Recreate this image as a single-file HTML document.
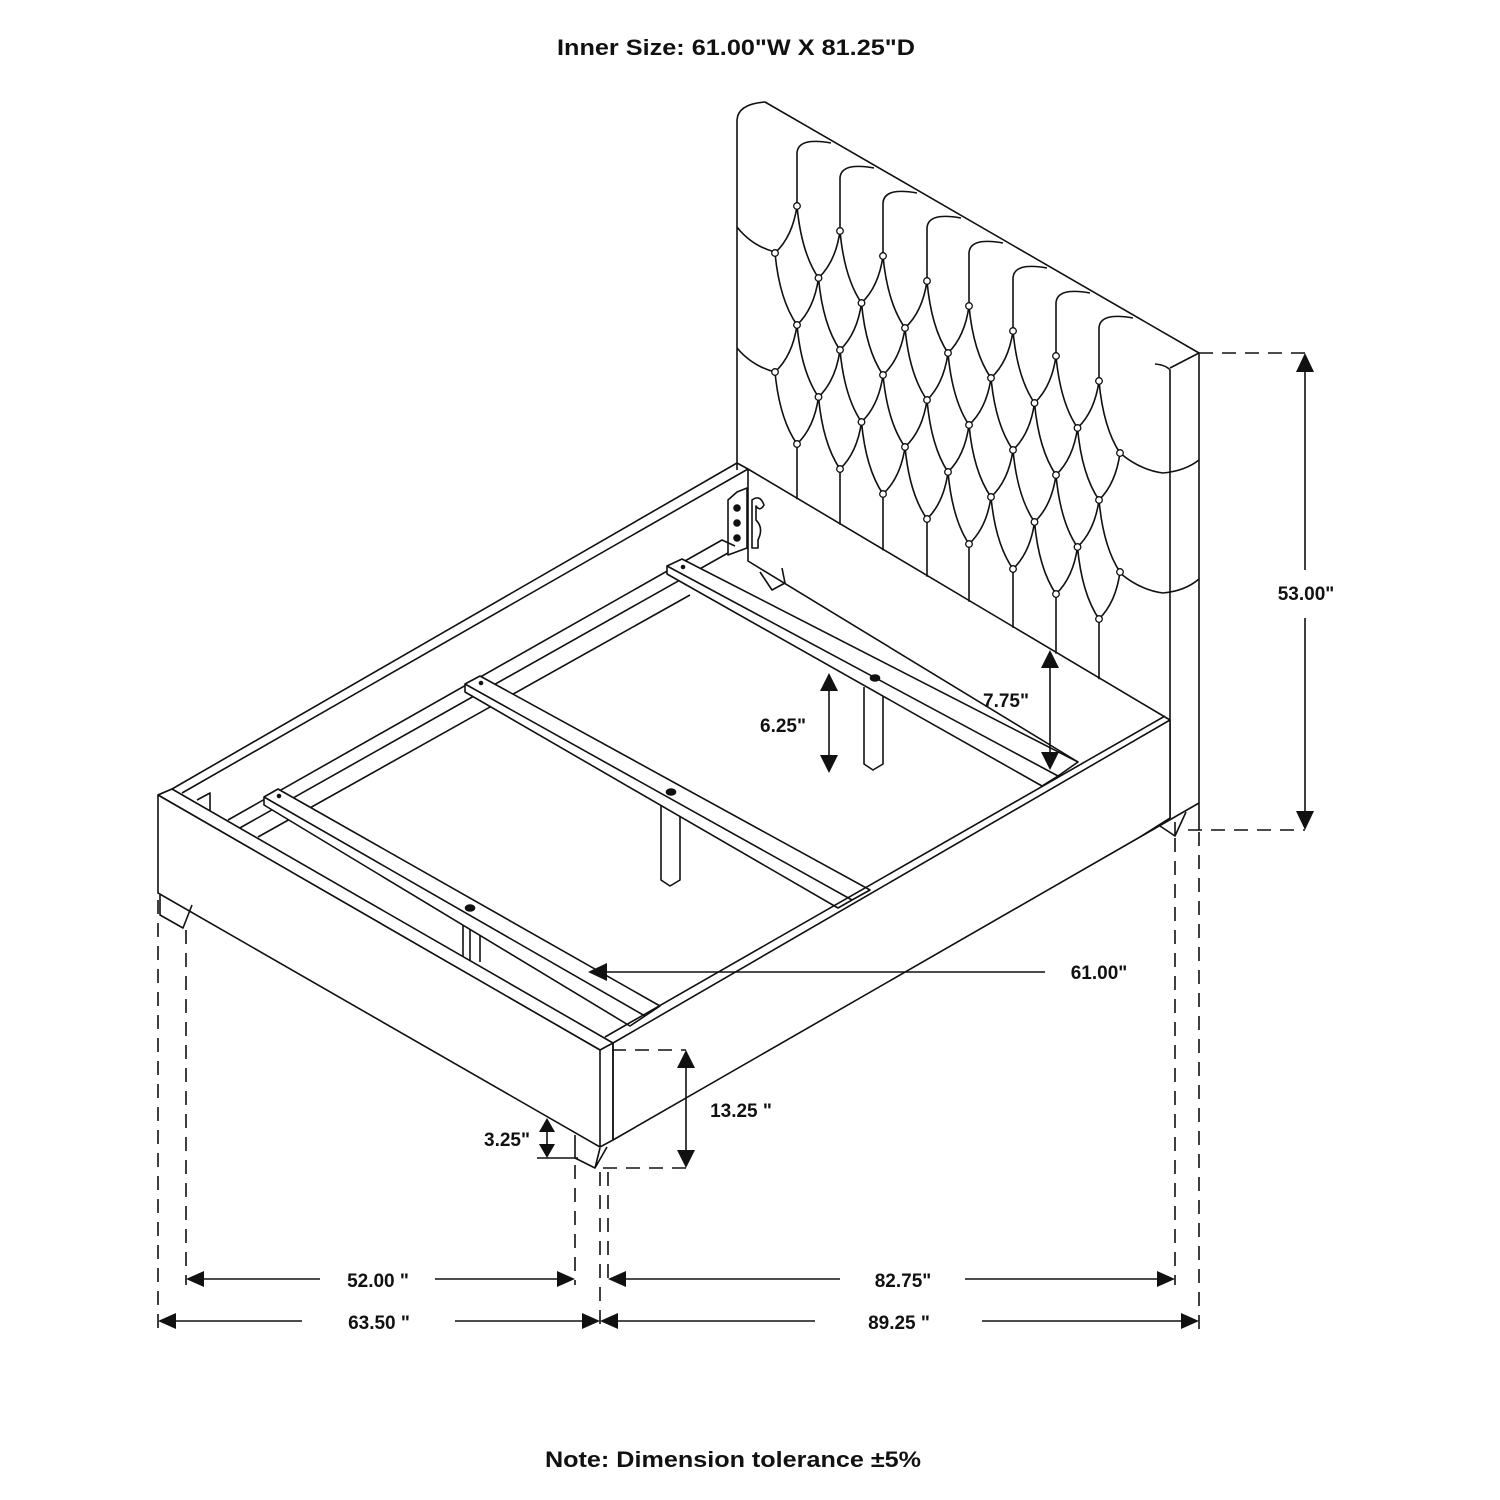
<!DOCTYPE html>
<html><head><meta charset="utf-8"><style>
html,body{margin:0;padding:0;background:#fff;}
svg{display:block;}
text{font-family:"Liberation Sans",Arial,sans-serif;font-weight:bold;fill:#111;}
</style></head><body>
<svg id="s" width="1500" height="1500" viewBox="0 0 1500 1500" xmlns="http://www.w3.org/2000/svg">
<rect width="1500" height="1500" fill="#fff"/>
<text x="736" y="55" font-size="22" text-anchor="middle" textLength="358" lengthAdjust="spacingAndGlyphs">Inner Size: 61.00"W X 81.25"D</text>
<text x="733" y="1467" font-size="22" text-anchor="middle" textLength="376" lengthAdjust="spacingAndGlyphs">Note: Dimension tolerance ±5%</text>

<g fill="none" stroke="#111" stroke-width="1.6" stroke-linejoin="round">
<!-- headboard -->
<path d="M737,470 L737,120 Q738,104 765,102 L1199,353 L1199,830" fill="#fff"/>
<path d="M1170,368 L1199,353"/>
<path d="M1155,364 Q1166,365 1170,370 L1170,818"/>
<path d="M1120,453 Q1140,470 1163,473 Q1185,471 1199,460"/>
<path d="M1120,573 Q1140,590 1163,593 Q1185,591 1199,579"/>
<path d="M737,227 Q752,246 775,252"/>
<path d="M737,348 Q752,366 775,372"/>
<g id="tuft"></g>
<!-- back panel / left rail back -->
<path d="M737,463 L748,469 L1170,720"/>
<path d="M748,469 L748,561 L1078,762"/>
<path d="M760,572 L772,590 L785,583 L782,568"/>
<!-- bracket -->
<path d="M728,500 L728,555 L747,548 L747,488 L737,492 Z" fill="#fff"/>
<circle cx="737" cy="508" r="3" fill="#111"/><circle cx="737" cy="523" r="3" fill="#111"/><circle cx="737" cy="538" r="3" fill="#111"/>
<path d="M752,548 L752,500 Q760,494 764,505 Q760,512 756,506 L756,520 Q764,528 758,540 L758,548 Z" fill="#fff"/>
<!-- left rail -->
<path d="M158,795 L172,789 L737,463"/>
<path d="M182,793 L748,469"/>
<path d="M197,800 L210,793 L210,812"/>
<path d="M228,820 L722,540 L735,546"/>
<path d="M238,829 L728,553"/>
<path d="M258,837 L690,595"/>
<!-- center legs -->
<path d="M864,687 L864,764 L873,770 L883,764 L883,687" fill="#fff"/>
<path d="M661,804 L661,880 L670,886 L680,880 L680,804" fill="#fff"/>
<path d="M463,918 L463,962 M480,918 L480,962 M470,920 L470,962"/>
<!-- slats -->
<path d="M682,559 L1078,762 L1058,776 L1042,786 L667,574 L667,566 Z" fill="#fff"/>
<path d="M667,566 L1058,776"/>
<path d="M480,676 L870,890 L852,900 L838,908 L465,692 L465,684 Z" fill="#fff"/>
<path d="M465,684 L852,900"/>
<path d="M278,789 L660,1006 L645,1016 L630,1026 L264,805 L264,797 Z" fill="#fff"/>
<path d="M264,797 L645,1016"/>
<ellipse cx="875" cy="678" rx="4.5" ry="3" fill="#111"/>
<ellipse cx="671" cy="792" rx="4.5" ry="3" fill="#111"/>
<ellipse cx="470" cy="908" rx="4.5" ry="3" fill="#111"/>
<circle cx="683" cy="567" r="1.5" fill="#111"/><circle cx="481" cy="683" r="1.5" fill="#111"/><circle cx="279" cy="796" r="1.5" fill="#111"/>
<!-- right rail -->
<path d="M613,1043 L1170,720 L1170,818 L1140,837 L613,1140 Z" fill="#fff"/>
<path d="M605,1037 L1165,716"/>
<path d="M1140,837 L1199,803"/>
<path d="M1160,826 L1175,836 L1186,812 M1175,836 L1175,822"/>
<!-- footboard -->
<path d="M158,795 L172,789 L613,1043 L600,1050 Z" fill="#fff"/>
<path d="M158,795 L600,1050 L600,1147 L158,893 Z" fill="#fff"/>
<path d="M613,1043 L613,1140"/>
<path d="M600,1147 L613,1140"/>
<path d="M160,895 L160,915 L183,928 L192,905"/>
<path d="M575,1135 L575,1158 L595,1168 L607,1147 M595,1168 L600,1148"/>
</g>

<!-- dimensions -->
<g stroke="#111" stroke-width="1.6" fill="none">
<g stroke-dasharray="14,9">
<path d="M1199,353 L1305,353 M1188,830 L1305,830"/>
<path d="M612,1050 L686,1050 M603,1168 L686,1168"/>
<path d="M158,900 L158,1330 M186,930 L186,1285 M575,1165 L575,1285 M600,1172 L600,1330 M608,1172 L608,1285 M1175,838 L1175,1285 M1199,832 L1199,1330"/>
</g>
<path d="M1305,370 L1305,570 M1305,618 L1305,815"/>
<path d="M1050,665 L1050,757"/>
<path d="M829,688 L829,757"/>
<path d="M605,972 L1045,972"/>
<path d="M686,1065 L686,1153"/>
<path d="M547,1128 L547,1150 M537,1158 L578,1158"/>
<path d="M200,1279 L320,1279 M435,1279 L562,1279"/>
<path d="M622,1279 L840,1279 M965,1279 L1162,1279"/>
<path d="M172,1321 L302,1321 M455,1321 L587,1321"/>
<path d="M614,1321 L815,1321 M982,1321 L1185,1321"/>
</g>
<g fill="#111">
<path d="M1305,353 L1296,372 L1314,372 Z M1305,830 L1296,811 L1314,811 Z"/>
<path d="M1050,650 L1041,668 L1059,668 Z M1050,770 L1041,752 L1059,752 Z"/>
<path d="M829,673 L820,691 L838,691 Z M829,773 L820,755 L838,755 Z"/>
<path d="M588,972 L607,963 L607,981 Z"/>
<path d="M686,1050 L677,1068 L695,1068 Z M686,1168 L677,1150 L695,1150 Z"/>
<path d="M547,1118 L539,1132 L555,1132 Z M547,1158 L539,1144 L555,1144 Z"/>
<path d="M186,1279 L204,1271 L204,1287 Z M575,1279 L557,1271 L557,1287 Z"/>
<path d="M608,1279 L626,1271 L626,1287 Z M1175,1279 L1157,1271 L1157,1287 Z"/>
<path d="M158,1321 L176,1313 L176,1329 Z M600,1321 L582,1313 L582,1329 Z"/>
<path d="M600,1321 L618,1313 L618,1329 Z M1199,1321 L1181,1313 L1181,1329 Z"/>
</g>
<g font-size="19">
<text x="1306" y="600" text-anchor="middle">53.00"</text>
<text x="1006" y="707" text-anchor="middle">7.75"</text>
<text x="783" y="732" text-anchor="middle">6.25"</text>
<text x="1099" y="979" text-anchor="middle">61.00"</text>
<text x="741" y="1117" text-anchor="middle">13.25 "</text>
<text x="507" y="1146" text-anchor="middle">3.25"</text>
<text x="378" y="1287" text-anchor="middle">52.00 "</text>
<text x="903" y="1287" text-anchor="middle">82.75"</text>
<text x="379" y="1329" text-anchor="middle">63.50 "</text>
<text x="899" y="1329" text-anchor="middle">89.25 "</text>
</g>
</svg>
<script>
(function(){
var NS="http://www.w3.org/2000/svg",g=document.getElementById("tuft");
var X=[797,840,883,927,969,1013,1056,1099];
function b(i){return 206+25*i;}
function ct(i){return 139+25*i;}
function bot(x){return 470+(x-748)*0.596;}
var d="";
function seg(ux,uy,lx,ly){var cx=ux+0.2*(lx-ux),cy=uy+0.65*(ly-uy);d+="M"+ux+","+uy+" Q"+cx.toFixed(1)+","+cy.toFixed(1)+" "+lx+","+ly+" ";}
var pts=[];
for(var i=0;i<8;i++){
 var x=X[i],t=ct(i);
 d+="M"+x+","+b(i)+" L"+x+","+(t+14)+" Q"+(x+1)+","+(t-2)+" "+(x+34)+","+(t+4)+" ";
 d+="M"+x+","+(b(i)+238)+" L"+x+","+bot(x).toFixed(1)+" ";
 for(var k=0;k<3;k++)pts.push([x,b(i)+119*k]);
}
for(var i=-1;i<8;i++){
 var mx=i<0?775:(i==7?1120:(X[i]+X[i+1])/2);
 var bi=206+25*i,bj=206+25*(i+1);
 for(var k=0;k<2;k++){
  var my=(bi+bj)/2+59.5+119*k;
  pts.push([mx,my]);
  if(i>=0){seg(X[i],bi+119*k,mx,my);seg(mx,my,X[i],bi+119*(k+1));}
  if(i<7){seg(X[i+1],bj+119*k,mx,my);seg(mx,my,X[i+1],bj+119*(k+1));}
 }
}
var p=document.createElementNS(NS,"path");p.setAttribute("d",d);g.appendChild(p);
pts.forEach(function(q){var c=document.createElementNS(NS,"circle");c.setAttribute("cx",q[0]);c.setAttribute("cy",q[1]);c.setAttribute("r","3.3");c.setAttribute("fill","#fff");c.setAttribute("stroke-width","1.3");g.appendChild(c);});
})();
</script>
</body></html>
